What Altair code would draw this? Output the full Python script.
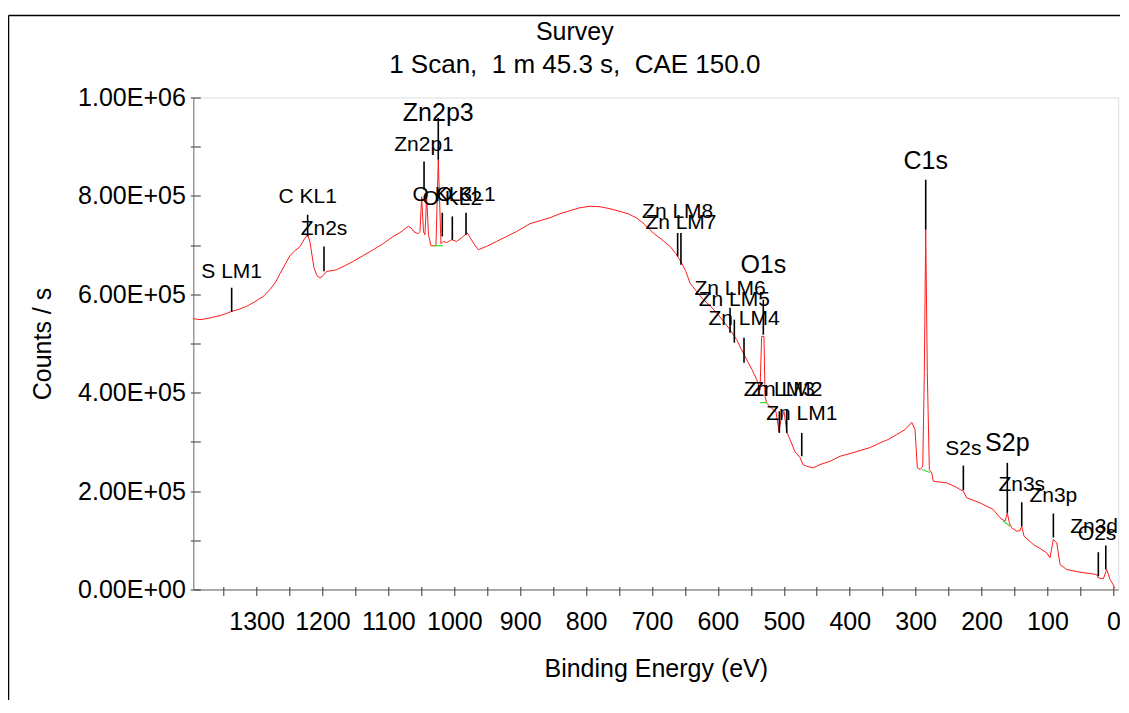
import json
import altair as alt
import pandas as pd

FONT = "Liberation Sans"

# ---------------- spectrum (binding energy in eV, counts/s) ----------------
binding_energy = [
    1396.1, 1385.9, 1375.3, 1366.2, 1355.6, 1346.5, 1337.8, 1328.3, 1315.1, 1302.5,
    1289.9, 1279.7, 1270.6, 1264.5, 1256.9, 1249.4, 1241.8, 1234.2, 1228.1, 1222.5,
    1219.0, 1216.0, 1212.9, 1208.4, 1203.8, 1199.3, 1193.7, 1185.6, 1178.5, 1165.9,
    1153.3, 1138.6, 1123.0, 1108.2, 1092.6, 1082.4, 1074.8, 1069.8, 1065.7, 1061.2,
    1055.1, 1052.1, 1049.5, 1046.7, 1044.5, 1041.9, 1039.2, 1035.4, 1027.8, 1024.3,
    1020.2, 1016.7, 1011.6, 1004.0, 996.4, 988.8, 980.3, 971.2, 963.6, 950.9,
    935.7, 920.5, 905.3, 885.2, 870.0, 854.8, 839.6, 824.5, 809.3, 794.1,
    778.9, 763.8, 748.6, 736.4, 723.2, 710.6, 698.1, 684.9, 672.7, 663.6,
    655.0, 648.4, 642.4, 633.3, 622.2, 612.0, 601.8, 592.3, 581.7, 571.5,
    565.0, 556.3, 548.3, 541.1, 536.1, 533.6, 530.1, 528.5, 526.0, 521.0,
    516.0, 511.9, 507.3, 504.3, 499.7, 495.2, 490.6, 483.0, 475.4, 470.9,
    465.3, 455.3, 445.1, 429.9, 414.7, 399.6, 384.4, 369.2, 354.0, 341.9,
    328.7, 316.1, 305.9, 300.9, 297.4, 293.3, 289.2, 286.8, 284.7, 282.3,
    279.2, 275.6, 273.2, 252.8, 240.2, 232.6, 227.6, 222.5, 202.3, 182.1,
    171.9, 164.3, 160.9, 157.8, 154.2, 146.6, 141.6, 139.0, 135.5, 121.4,
    111.2, 101.1, 96.1, 91.1, 85.9, 80.9, 70.7, 50.5, 35.4, 25.2,
    22.8, 15.2, 10.0, 5.0, -2.5,
]
counts_per_s = [
    550500, 548500, 550500, 553500, 556600, 560600, 565300, 568800, 575500, 585000,
    595800, 609400, 625600, 641900, 660200, 678500, 688600, 696700, 711000, 721100,
    706900, 680500, 654100, 637800, 633200, 637800, 646600, 648000, 650000, 658100,
    666900, 678500, 690600, 702800, 717700, 725200, 733300, 738000, 735300, 727200,
    723100, 727200, 798300, 727200, 721100, 798300, 721100, 698800, 698800, 873500,
    702800, 707500, 704900, 711000, 707500, 715000, 724600, 704900, 690600, 697400,
    707500, 717700, 727800, 743500, 749600, 755600, 763800, 769900, 776000, 779000,
    778000, 773900, 768400, 763800, 755000, 741400, 724600, 711000, 697400, 682500,
    663600, 645900, 623000, 607400, 589100, 576900, 562100, 546400, 528100, 507800,
    489500, 467200, 446900, 426600, 406300, 514500, 514500, 392600, 379200, 371700,
    365600, 361600, 320900, 345300, 361600, 318900, 304700, 280300, 268100, 253900,
    250500, 247200, 253900, 260600, 270800, 276300, 282400, 288400, 298000, 304700,
    314900, 325000, 339800, 325000, 247200, 243800, 250500, 440800, 731300, 440800,
    243800, 237100, 220000, 216700, 209200, 203100, 199700, 186300, 176100, 162500,
    145600, 138700, 155800, 135500, 125300, 118400, 119800, 128600, 108300, 91400,
    83300, 74500, 64400, 101600, 94900, 50800, 40600, 35100, 32500, 30500,
    23800, 21700, 40600, 20300, 3500,
]

# ---------------- peak identification markers ----------------
peak_names = ["S LM1", "C KL1", "Zn2s", "Zn2p1", "Zn2p3", "O KL3", "O KL2", "O KL1",
              "Zn LM8", "Zn LM7", "O1s", "Zn LM6", "Zn LM5", "Zn LM4", "Zn LM3",
              "Zn LM2", "Zn LM1", "C1s", "S2s", "S2p", "Zn3s", "Zn3p", "Zn3d", "O2s"]
peak_be = [1337.8, 1222.5, 1197.7, 1045.9, 1024.3, 1018.2, 1003.0, 982.2,
           661.1, 656.1, 531.1, 581.6, 575.1, 560.4, 506.8,
           495.6, 472.8, 284.7, 227.6, 160.9, 139.0, 91.0, 22.8, 11.5]
marker_top = [613400, 761700, 697400, 870000, 958800, 765800, 758300, 765800,
              724600, 724600, 589100, 572800, 548500, 511900, 362200,
              365600, 318300, 832800, 251900, 257400, 177300, 154400, 75800, 89400]
marker_bottom = [564700, 717700, 646600, 812500, 873500, 717700, 711000, 721100,
                 677000, 660200, 518000, 522000, 501700, 461100, 318300,
                 318300, 270800, 731300, 201700, 155800, 128600, 105600, 27000, 40600]
label_be = [1337.8, 1222.5, 1197.7, 1045.9, 1024.3, 1018.2, 1003.0, 982.2,
            661.1, 656.1, 531.1, 581.6, 575.1, 560.4, 506.8,
            495.6, 472.8, 284.7, 227.6, 160.9, 139.0, 91.0, 29.2, 24.7]
label_counts = [633200, 785500, 721100, 890300, 951300, 788800, 782100, 788800,
                755000, 732700, 643300, 599200, 576900, 538300, 394100,
                394100, 343900, 854600, 274200, 280900, 199700, 177300, 115200, 101600]
major_peaks = ["Zn2p3", "O1s", "C1s", "S2p"]

# ---------------- background (baseline) segments ----------------
bg_be_start = [1032.3, 536.1, 290.7, 167.8]
bg_be_end = [1017.1, 525.5, 278.1, 156.7]
bg_counts_start = [698800, 379900, 243800, 140200]
bg_counts_end = [698800, 379900, 237700, 128600]

# ---------------- axes ----------------
x_domain = [1396, -7.5]
x_ticks = list(range(0, 1351, 50))
y_ticks = list(range(0, 1000001, 100000))
y_tick_labels = ["0.00E+00", "2.00E+05", "4.00E+05", "6.00E+05", "8.00E+05", "1.00E+06"]

W, H = 925, 492
PAD_L, PAD_T = 185.3, 89.5

spec = pd.DataFrame({"be": binding_energy, "counts": counts_per_s})
peaks = pd.DataFrame({"name": peak_names, "be": peak_be, "top": marker_top,
                      "bottom": marker_bottom, "lbe": label_be, "ly": label_counts})
peaks["major"] = peaks["name"].isin(major_peaks)
bg = pd.DataFrame({"b1": bg_be_start, "b2": bg_be_end, "c1": bg_counts_start, "c2": bg_counts_end})

xs = alt.Scale(domain=x_domain, nice=False, zero=False)
ys = alt.Scale(domain=[0, 1000000], nice=False, zero=False)

x_label_expr = "datum.value % 100 === 0 ? format(datum.value, 'd') : ''"
y_label_expr = ("datum.value % 200000 === 0 ? " + json.dumps(y_tick_labels)
                + "[round(datum.value / 200000)] : ''")

x_axis = alt.Axis(orient="bottom", values=x_ticks, labelExpr=x_label_expr, grid=False,
                  tickSize=6, tickColor="#333333", domainColor="#666666",
                  labelFont=FONT, labelFontSize=25, labelColor="black", labelPadding=14,
                  labelOverlap=False, labelFlush=False,
                  title="Binding Energy (eV)", titleFont=FONT, titleFontSize=25,
                  titleFontWeight="normal", titleColor="black", titlePadding=22)
y_axis = alt.Axis(orient="left", values=y_ticks, labelExpr=y_label_expr, grid=False,
                  tickSize=3, tickColor="#333333", domainColor="#777777",
                  labelFont=FONT, labelFontSize=25, labelColor="black", labelPadding=5,
                  labelOverlap=False, labelFlush=False,
                  title="Counts / s", titleFont=FONT, titleFontSize=25,
                  titleFontWeight="normal", titleColor="black", titlePadding=22)

line = alt.Chart(spec).mark_line(color="#ff1a1a", strokeWidth=1).encode(
    x=alt.X("be:Q", scale=xs, axis=x_axis),
    y=alt.Y("counts:Q", scale=ys, axis=y_axis),
)

background = alt.Chart(bg).mark_rule(color="#33dd33", strokeWidth=1.2).encode(
    x=alt.X("b1:Q", scale=xs, axis=None), x2="b2:Q",
    y=alt.Y("c1:Q", scale=ys, axis=None), y2="c2:Q",
)

# marker rules; their axes draw the inward half of each tick
markers = alt.Chart(peaks).mark_rule(color="black", strokeWidth=1.6).encode(
    x=alt.X("be:Q", scale=xs, axis=alt.Axis(orient="top", offset=-H, values=x_ticks,
                                            labels=False, domain=False, grid=False,
                                            tickSize=3, tickColor="#333333", title=None)),
    y=alt.Y("top:Q", scale=ys, axis=alt.Axis(orient="right", offset=-W, values=y_ticks,
                                             labels=False, domain=False, grid=False,
                                             tickSize=7, tickColor="#333333", title=None)),
    y2="bottom:Q",
)

labels_small = alt.Chart(peaks).transform_filter("!datum.major").mark_text(
    font=FONT, fontSize=21, color="black", align="center", baseline="alphabetic"
).encode(
    x=alt.X("lbe:Q", scale=xs, axis=None),
    y=alt.Y("ly:Q", scale=ys, axis=None),
    text="name:N",
)
labels_big = alt.Chart(peaks).transform_filter("datum.major").mark_text(
    font=FONT, fontSize=25, color="black", align="center", baseline="alphabetic"
).encode(
    x=alt.X("lbe:Q", scale=xs, axis=None),
    y=alt.Y("ly:Q", scale=ys, axis=None),
    text="name:N",
)

frame_data = alt.Data(values=[{}])
frame_left = alt.Chart(frame_data).mark_rule(color="black", strokeWidth=1.5).encode(
    x=alt.value(-PAD_L + 0.5), y=alt.value(-82), y2=alt.value(H + 200))
frame_top = alt.Chart(frame_data).mark_rule(color="black", strokeWidth=1.5).encode(
    x=alt.value(-PAD_L + 0.5), x2=alt.value(W + 200), y=alt.value(-82))

chart = alt.layer(
    line, background, markers, labels_small, labels_big, frame_left, frame_top
).resolve_axis(x="independent", y="independent").properties(
    width=W, height=H,
    autosize=alt.AutoSizeParams(type="none"),
    padding={"left": PAD_L, "top": PAD_T, "right": 2, "bottom": 110},
    title=alt.TitleParams(
        text="Survey", subtitle="1 Scan,\u00a0 1 m 45.3 s,\u00a0 CAE 150.0",
        anchor="middle", frame="group", dx=-81, offset=-63,
        font=FONT, fontSize=25, fontWeight="normal", color="black",
        subtitleFont=FONT, subtitleFontSize=26, subtitleColor="black",
        subtitlePadding=7,
    ),
).configure_view(stroke="#666666", strokeWidth=1).configure(background="white")

chart.save("out.html", embed_options={"renderer": "svg", "actions": False})
